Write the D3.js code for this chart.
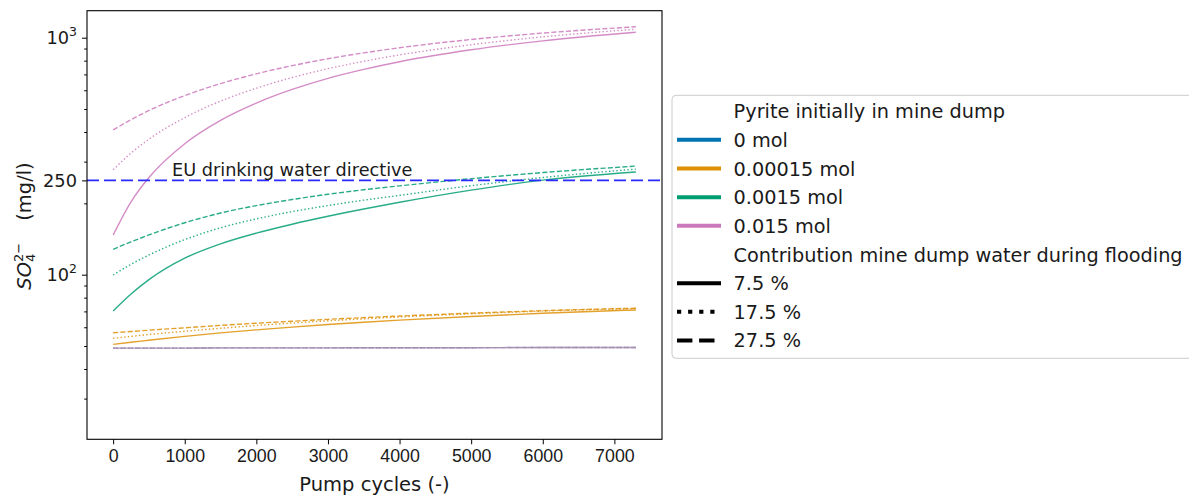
<!DOCTYPE html>
<html>
<head>
<meta charset="utf-8">
<script src="https://cdn.jsdelivr.net/npm/d3@7"></script>
<style>
  body { margin: 0; background: #fff; }
  svg { display: block; font-family: "DejaVu Sans", Verdana, sans-serif; }
</style>
</head>
<body>
<div id="chart"></div>
<script>
// time axis (pump cycles)
const pumpCycles = [0, 250, 500, 1000, 1500, 2000, 2500, 3000, 3500, 4000, 5000, 6000, 7300];

// legend entries
const pyriteLabels = ["0 mol", "0.00015 mol", "0.0015 mol", "0.015 mol"];
const contributionLabels = ["7.5 %", "17.5 %", "27.5 %"];

// SO4 (mg/l), one row per contribution: 7.5 %, 17.5 %, 27.5 %
const so4_0mol = [
  [49.0, 49.0, 49.0, 49.0, 49.1, 49.1, 49.1, 49.1, 49.2, 49.2, 49.2, 49.3, 49.3],
  [49.0, 49.0, 49.0, 49.0, 49.1, 49.1, 49.1, 49.1, 49.2, 49.2, 49.2, 49.3, 49.3],
  [49.0, 49.0, 49.0, 49.0, 49.1, 49.1, 49.1, 49.1, 49.2, 49.2, 49.2, 49.3, 49.3]
];
const so4_000015mol = [
  [50.8, 51.9, 52.9, 54.9, 56.8, 58.5, 60.1, 61.6, 63.0, 64.3, 66.6, 68.7, 71.0],
  [53.9, 54.9, 55.9, 57.7, 59.4, 61.0, 62.5, 63.9, 65.1, 66.3, 68.4, 70.2, 72.0],
  [56.9, 57.6, 58.3, 59.7, 61.1, 62.4, 63.6, 64.8, 65.9, 66.9, 68.8, 70.5, 72.2]
];
const so4_00015mol = [
  [70.3, 82.9, 95.3, 117.4, 134.9, 149.7, 163.3, 176.4, 189.2, 202.1, 227.5, 250.7, 271.3],
  [99.7, 110.6, 121.1, 140.6, 157.7, 172.0, 184.5, 195.7, 206.3, 216.1, 237.4, 257.1, 279.0],
  [128.0, 137.6, 147.1, 165.6, 182.0, 195.7, 207.6, 218.4, 228.2, 237.0, 254.1, 269.7, 287.2]
];
const so4_0015mol = [
  [147, 203, 257, 357, 448, 530, 605, 674, 735, 792, 889, 970, 1054],
  [277, 326, 373, 460, 540, 612, 679, 740, 795, 846, 934, 1008, 1086],
  [408, 451, 493, 570, 640, 704, 762, 815, 863, 907, 983, 1046, 1112]
];
const so4Series = [so4_0mol, so4_000015mol, so4_00015mol, so4_0015mol];

const directiveLimit = 250;
const xTicks = [0, 1000, 2000, 3000, 4000, 5000, 6000, 7000];

// colorblind palette
const colors = ["#0173b2", "#de8f05", "#029e73", "#cc78bc"];
const lineColors = ["#a28db2", "#de8f05", "#029e73", "#cc78bc"];
const dashes = [null, "1.4,2.3", "5.1,2.2"];
const legendDashes = [null, "4.2,6.9", "15.4,6.7"];

const width = 1189, height = 495;
const plot = { left: 87, right: 662, top: 10.7, bottom: 439.3 };

const svg = d3.select("#chart").append("svg")
  .attr("width", width).attr("height", height);

const x = d3.scaleLinear().domain([-365, 7665]).range([plot.left, plot.right]);
const y = d3.scaleLog().domain([20.2, 1300]).range([plot.bottom, plot.top]);

const line = d3.line()
  .x((d, i) => x(pumpCycles[i]))
  .y(d => y(d))
  .curve(d3.curveMonotoneX);

// data lines
const gLines = svg.append("g");
so4Series.forEach((group, p) => {
  group.forEach((vals, c) => {
    gLines.append("path")
      .attr("d", line(vals))
      .attr("fill", "none")
      .attr("stroke", lineColors[p])
      .attr("stroke-opacity", 0.85)
      .attr("stroke-width", 1.4)
      .attr("stroke-dasharray", dashes[c]);
  });
});

// EU drinking water directive
svg.append("line")
  .attr("x1", plot.left).attr("x2", plot.right)
  .attr("y1", y(directiveLimit)).attr("y2", y(directiveLimit))
  .attr("stroke", "#2a2aff")
  .attr("stroke-width", 1.8)
  .attr("stroke-dasharray", "12,5");
svg.append("text")
  .attr("x", 172).attr("y", y(directiveLimit) - 4)
  .attr("font-size", "17.7px").attr("fill", "#1a1a1a")
  .text("EU drinking water directive");

// frame
svg.append("rect")
  .attr("x", plot.left).attr("y", plot.top)
  .attr("width", plot.right - plot.left).attr("height", plot.bottom - plot.top)
  .attr("fill", "none").attr("stroke", "#000").attr("stroke-width", 1.1);

// x axis
const gx = svg.append("g").attr("transform", `translate(0,${plot.bottom})`)
  .call(d3.axisBottom(x).tickValues(xTicks).tickSize(5).tickPadding(5).tickFormat(d3.format("d")));
gx.select(".domain").remove();
gx.selectAll("text").attr("font-size", "17.8px").attr("fill", "#1a1a1a").attr("font-family", null);

svg.append("text")
  .attr("x", (plot.left + plot.right) / 2).attr("y", 491)
  .attr("text-anchor", "middle").attr("font-size", "19.5px").attr("fill", "#1a1a1a")
  .text("Pump cycles (-)");

// y axis: minor ticks
const minorTicks = [30, 40, 50, 60, 70, 80, 90, 200, 300, 400, 500, 600, 700, 800, 900];
const gy = svg.append("g").attr("transform", `translate(${plot.left},0)`);
gy.call(d3.axisLeft(y).tickValues(minorTicks).tickSize(2.8).tickFormat(""));
gy.select(".domain").remove();

const majorTicks = [100, 250, 1000];
const gyMajor = svg.append("g").attr("transform", `translate(${plot.left},0)`)
  .call(d3.axisLeft(y).tickValues(majorTicks).tickSize(5).tickFormat(""));
gyMajor.select(".domain").remove();

majorTicks.forEach(v => {
  const t = svg.append("text")
    .attr("x", plot.left - 10).attr("y", y(v) + 6.5)
    .attr("text-anchor", "end").attr("font-size", "17.8px").attr("fill", "#1a1a1a");
  if (v === 250) {
    t.text("250");
  } else {
    t.append("tspan").text("10");
    t.append("tspan").attr("font-size", "12.5px").attr("dy", -8).text(Math.log10(v));
  }
});

// y label
const yl = svg.append("text")
  .attr("transform", "translate(31,226) rotate(-90)")
  .attr("text-anchor", "middle").attr("font-size", "19.5px").attr("fill", "#1a1a1a");
yl.append("tspan").attr("font-style", "italic").text("SO");
yl.append("tspan").attr("font-size", "13px").attr("dy", 4).text("4");
yl.append("tspan").attr("font-size", "13px").attr("dx", -8.3).attr("dy", -12).text("2");
yl.append("tspan").attr("font-size", "13px").attr("dy", 0).text("−");
yl.append("tspan").attr("dx", 22).attr("dy", 8).text("(mg/l)");

// legend
const legend = svg.append("g");
legend.append("rect")
  .attr("x", 672).attr("y", 95.3).attr("width", 540).attr("height", 263)
  .attr("rx", 4).attr("fill", "#fff").attr("fill-opacity", 0.8)
  .attr("stroke", "#cccccc").attr("stroke-width", 1);

const rows = [{ title: "Pyrite initially in mine dump" }]
  .concat(pyriteLabels.map((l, i) => ({ label: l, color: colors[i], dash: null })))
  .concat([{ title: "Contribution mine dump water during flooding" }])
  .concat(contributionLabels.map((l, i) => ({ label: l, color: "#000", dash: legendDashes[i] })));

rows.forEach((r, i) => {
  const cy = 111.2 + i * 28.66;
  if (!r.title) {
    legend.append("line")
      .attr("x1", 677).attr("x2", 721).attr("y1", cy).attr("y2", cy)
      .attr("stroke", r.color).attr("stroke-width", 4)
      .attr("stroke-dasharray", r.dash);
  }
  legend.append("text")
    .attr("x", 733.6).attr("y", cy + 7)
    .attr("font-size", "19.3px").attr("fill", "#1a1a1a")
    .text(r.title || r.label);
});
</script>
</body>
</html>
